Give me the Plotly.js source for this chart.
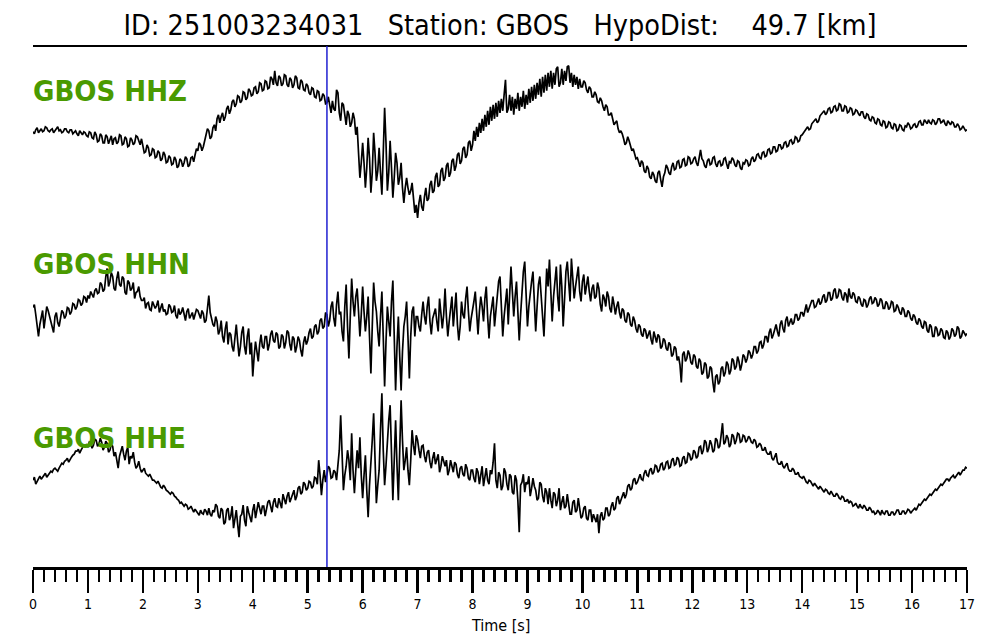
<!DOCTYPE html>
<html><head><meta charset="utf-8">
<script src="https://cdn.plot.ly/plotly-3.0.1.min.js"></script>
<style>html,body{margin:0;padding:0;background:#fff}#chart{width:1000px;height:640px}</style>
</head><body><div id="chart"></div>
<script>
// ---- data (amplitudes, sample step 0.025 s) ----
const sampleStep = 0.025;
const channels = ['GBOS HHZ', 'GBOS HHN', 'GBOS HHE'];
const hhz = [
 1, -1, 3, 5, 0, 2, 4, 1, 2, 6, 5, 2, 1, 3, 4, 0, 2, 5, 6, 2, 3, 0, 1, 4, 4, 1, 0, 3, 3, -1, 1, 2, -1, -3, 2, 0, -2, 1, 0, -3,
 -4, 1, 0, -5, -6, 1, -2, -9, -8, -1, -3, -10, -10, -2, -4, -11, -7, -3, -12, -6, -5, -11, -9, -2, -3, -12, -11, -4, -6, -14, -13, -5, -7, -12, -10, -3, -4, -9, -12, -6,
 -14, -20, -19, -12, -15, -23, -22, -16, -17, -25, -24, -18, -20, -28, -26, -19, -22, -30, -29, -23, -25, -32, -31, -24, -27, -35, -33, -26, -28, -34, -30, -24, -26, -34, -32, -25, -24, -29, -22, -16,
 -18, -10, -12, -18, -14, -6, -2, 4, 2, -6, -4, 5, 8, 2, 14, 18, 10, 16, 20, 12, 16, 24, 27, 19, 23, 31, 33, 26, 29, 37, 36, 30, 32, 41, 40, 33, 35, 44, 42, 37,
 38, 45, 46, 39, 41, 50, 49, 42, 43, 52, 51, 44, 45, 56, 54, 48, 62, 50, 47, 57, 55, 47, 49, 58, 57, 48, 46, 55, 53, 45, 48, 57, 55, 45, 44, 53, 51, 43, 42, 49,
 47, 40, 38, 45, 44, 36, 35, 42, 41, 32, 33, 39, 37, 29, 30, 36, 26, 20, 32, 24, 22, 43, 40, 20, 12, 30, 28, 15, 8, 22, 18, 6, 10, 20, 14, -2, 6, -20, -45, -30,
 -10, -30, -55, -35, -5, -25, -60, -40, 0, -20, -48, -38, -15, -40, -62, -20, 25, -10, -58, -40, -8, -35, -65, -45, -20, -30, -52, -45, -30, -55, -70, -55, -45, -55, -62, -58, -50, -65, -80, -72,
 -85, -70, -62, -74, -78, -64, -55, -68, -66, -52, -48, -60, -58, -44, -40, -54, -52, -38, -35, -48, -45, -33, -30, -44, -40, -28, -26, -38, -33, -22, -20, -31, -28, -16, -14, -25, -22, -10, -8, -18,
 -12, 2, -8, 6, -4, 10, 0, 14, 2, 18, 6, 22, 8, 26, 12, 28, 14, 30, 16, 32, 20, 34, 22, 38, 53, 20, 24, 38, 22, 36, 18, 34, 24, 40, 22, 36, 26, 42, 24, 38,
 28, 44, 30, 46, 32, 48, 34, 50, 38, 54, 36, 56, 40, 58, 42, 60, 46, 62, 44, 60, 48, 64, 66, 46, 50, 64, 48, 62, 52, 66, 67, 50, 60, 46, 58, 48, 56, 44, 54, 46,
 46, 52, 50, 43, 40, 46, 44, 36, 36, 41, 38, 31, 30, 35, 32, 26, 22, 28, 26, 18, 18, 20, 14, 8, 10, 12, 4, 0, 2, -1, -6, -12, -10, -4, -8, -14, -18, -16, -22, -26,
 -25, -30, -34, -28, -30, -38, -40, -33, -36, -44, -46, -39, -42, -48, -50, -40, -38, -47, -54, -44, -40, -32, -35, -40, -42, -34, -30, -37, -36, -29, -28, -35, -34, -27, -26, -33, -32, -24, -25, -31,
 -30, -26, -24, -30, -33, -25, -17, -26, -28, -33, -35, -28, -26, -32, -31, -25, -24, -31, -34, -29, -28, -33, -32, -26, -25, -31, -36, -29, -30, -25, -27, -32, -34, -28, -29, -35, -37, -30, -31, -27,
 -28, -33, -32, -26, -24, -29, -27, -22, -21, -25, -26, -20, -19, -24, -23, -17, -16, -21, -20, -14, -14, -19, -18, -12, -12, -16, -15, -10, -9, -14, -13, -8, -7, -11, -10, -4, -5, -9, -8, -3,
 -2, 0, 2, 5, 6, 3, 4, 9, 11, 13, 14, 10, 12, 17, 19, 21, 22, 18, 20, 24, 25, 20, 21, 26, 27, 22, 23, 29, 28, 22, 22, 27, 26, 20, 21, 25, 24, 18, 19, 23,
 22, 19, 17, 21, 21, 16, 14, 19, 18, 13, 12, 16, 15, 10, 9, 14, 13, 8, 7, 12, 11, 5, 6, 11, 10, 5, 4, 9, 8, 2, 3, 8, 7, 3, 2, 7, 6, 10, 8, 4,
 5, 8, 9, 5, 7, 11, 12, 8, 8, 13, 11, 9, 13, 10, 9, 13, 12, 8, 10, 14, 14, 10, 11, 13, 9, 7, 12, 10, 8, 11, 10, 6, 6, 9, 7, 3, 4, 7, 5, 2,
 3
];
const hhn = [
 -1, 2, -8, -20, -30, -18, -12, -4, -22, -8, 0, -4, -10, -14, -20, -26, -10, -6, -16, -20, -12, -4, -6, -12, -9, -1, -2, -8, -5, 3, 2, -3, 0, 7, 6, 1, 3, 10, 9, 4,
 11, 8, 15, 12, 9, 16, 18, 13, 14, 24, 22, 15, 17, 30, 38, 20, 25, 34, 30, 18, 16, 28, 35, 22, 20, 30, 28, 14, 12, 26, 24, 16, 18, 24, 8, 14, 15, 20, 10, 6,
 6, 9, -2, 3, 4, -3, -4, 5, 2, -2, 1, 6, -6, -2, 3, -5, -3, -8, -7, 2, 0, -6, -5, 1, -9, -12, -2, -8, -6, -1, -10, -14, -5, -2, -12, -8, -6, -13, -9, -3,
 -4, -9, -12, -4, -7, -16, -14, -2, 11, -6, -13, -18, -20, -10, -15, -28, -24, -14, -30, -36, -22, -15, -38, -26, -28, -40, -45, -30, -18, -35, -50, -40, -26, -20, -40, -48, -30, -22, -48, -36,
 -70, -50, -35, -45, -55, -38, -28, -40, -42, -30, -30, -44, -38, -28, -24, -34, -36, -26, -28, -42, -40, -28, -30, -42, -36, -24, -26, -38, -44, -30, -32, -46, -40, -30, -34, -44, -50, -36, -30, -38,
 -34, -26, -22, -32, -30, -20, -18, -28, -25, -14, -12, -22, -20, -6, -8, -20, -14, 0, 5, -12, -20, 2, 15, -8, -5, -25, -35, 0, 22, -20, -52, -10, 28, 5, -10, 10, 18, -5, -30, -8,
 20, -5, -25, -10, 10, -30, -67, -20, 24, 5, -5, -25, -40, -10, 15, -30, -80, -35, 0, -15, -30, 5, 26, -30, -84, -40, -10, -50, -84, -45, -20, -10, 5, -30, -72, -30, -5, 0, -30, -10,
 -10, -20, -25, -8, 5, -10, -18, 0, 10, -15, -28, -12, -6, -2, -15, -25, 8, -5, -22, -8, 18, -10, -30, -15, 0, 10, -20, -5, 14, -18, -34, -20, 5, -8, -12, 8, 20, -5, -25, -12,
 -5, 5, 15, -10, -28, -5, 10, 0, -15, 8, 20, -10, -32, -10, 2, 10, -20, -5, 12, 25, 30, 0, -30, -10, 8, 18, -18, 5, 40, 15, -10, 10, 25, -5, -34, -8, 20, 35, 45, 10,
 -20, 0, 15, 25, 35, 5, -25, 0, 22, 30, 5, -10, -30, 10, 38, 20, 47, 15, -15, 10, 30, 40, 10, -5, 42, 20, -20, 10, 35, 45, 20, 5, 48, 25, 8, 20, 30, 40, 15, 5,
 25, 32, 12, 20, 30, 15, 5, 18, 22, 8, 10, 24, 18, 2, -5, 12, 8, 0, 15, 10, -2, -6, 10, 2, -8, 0, 5, -6, -12, -2, -4, -14, -16, -6, -8, -18, -20, -10, -14, -22,
 -26, -18, -20, -28, -30, -22, -24, -32, -28, -24, -33, -38, -25, -30, -36, -28, -30, -42, -40, -32, -34, -42, -44, -36, -38, -50, -48, -40, -42, -54, -50, -58, -76, -48, -45, -55, -52, -44, -48, -56,
 -58, -48, -50, -60, -62, -52, -55, -68, -66, -56, -58, -72, -70, -60, -62, -76, -86, -70, -68, -78, -75, -62, -60, -70, -66, -55, -58, -68, -64, -52, -54, -63, -60, -50, -55, -64, -58, -48, -50, -56,
 -52, -44, -46, -52, -48, -40, -40, -47, -44, -36, -35, -42, -38, -30, -30, -36, -26, -22, -32, -28, -22, -18, -25, -30, -18, -14, -22, -26, -14, -10, -20, -16, -12, -18, -16, -8, -8, -14, -12, -6,
 -6, -10, -2, 2, -6, -2, 2, 6, 6, -1, 0, 5, 8, 2, 4, 10, 12, 4, 6, 14, 14, 6, 8, 16, 18, 8, 10, 17, 16, 9, 6, 14, 12, 4, 18, 10, 8, 14, 12, 5,
 4, 10, 8, 2, 0, 7, 6, -1, 2, 8, 10, 3, 4, 9, 7, 0, 2, 8, 6, -2, -2, 5, 3, -3, -1, 5, 4, -5, -4, 2, -1, -6, -8, -1, -3, -10, -10, -4, -6, -12,
 -14, -8, -10, -16, -18, -12, -14, -20, -22, -15, -16, -24, -26, -18, -20, -30, -30, -20, -22, -29, -28, -22, -24, -31, -32, -24, -26, -33, -30, -22, -24, -30, -28, -20, -22, -32, -30, -24, -26, -29,
 -27
];
const hhe = [
 0, 3, -4, -1, 2, 4, 1, 3, 5, 7, 3, 5, 6, 9, 8, 11, 12, 10, 9, 12, 14, 17, 16, 19, 20, 22, 18, 21, 23, 25, 26, 29, 29, 31, 27, 30, 32, 35, 34, 36,
 33, 38, 37, 32, 35, 41, 40, 34, 36, 42, 38, 30, 33, 39, 37, 28, 30, 36, 34, 24, 28, 20, 12, 24, 30, 34, 26, 20, 29, 33, 16, 24, 22, 28, 18, 12, 14, 19, 12, 8,
 10, 12, 7, 5, 4, 6, 2, 0, 0, -2, -3, -1, -5, -7, -8, -5, -7, -10, -11, -13, -14, -12, -13, -16, -17, -19, -20, -23, -22, -24, -26, -24, -25, -29, -28, -26, -30, -32, -29, -31,
 -32, -35, -30, -33, -34, -29, -31, -35, -28, -34, -36, -30, -32, -24, -26, -36, -38, -28, -30, -44, -42, -30, -28, -40, -36, -26, -48, -38, -30, -44, -57, -36, -34, -25, -40, -46, -26, -32, -36, -42,
 -30, -24, -38, -30, -22, -28, -34, -26, -26, -36, -30, -22, -20, -28, -32, -22, -18, -26, -27, -18, -22, -28, -14, -20, -24, -16, -12, -22, -18, -12, -10, -20, -16, -8, -6, -14, -12, -2, -4, -10,
 -8, -1, -2, -8, -6, 3, 2, -4, 20, 5, -15, 0, 10, -2, 5, 14, 12, 2, 3, 10, 8, 0, 15, 30, 65, 20, -10, 5, 14, 30, 20, 0, 47, 10, -13, 10, 30, 12, 43, 5,
 -18, 5, 25, -10, -37, -5, 15, 40, 67, 20, -23, -5, 10, 50, 87, 30, -5, 15, 40, 60, 75, 20, -20, 20, 60, 15, -20, 30, 80, 40, 10, 20, 33, 10, -5, 20, 50, 35, 25, 45,
 40, 30, 22, 34, 35, 24, 18, 28, 30, 18, 12, 22, 28, 16, 20, 26, 8, 14, 24, 18, 14, 20, 5, 10, 20, 14, 8, 18, 16, 6, 2, 12, 14, 6, 4, 16, 12, 2, 0, 10,
 10, 2, -2, 12, 8, -4, 4, 14, -6, 2, 12, 0, -4, 10, 6, 18, 37, 0, -8, 8, 5, -10, -6, 12, 8, -4, -10, 6, 4, -12, -14, 5, 0, -20, -52, -5, -2, 6, -12, -2,
 -4, 4, -16, -8, 2, -6, -10, -20, -18, -2, -4, -16, -22, -8, -12, -24, -8, -20, -28, -12, -14, -26, -20, -8, -30, -22, -16, -28, -26, -14, -24, -34, -34, -22, -20, -32, -30, -18, -28, -38,
 -36, -28, -26, -38, -40, -30, -30, -42, -34, -38, -42, -34, -53, -36, -32, -40, -38, -28, -28, -36, -34, -26, -22, -30, -28, -18, -16, -24, -20, -14, -12, -18, -14, -6, -4, -10, -8, 0, 2, -4,
 -2, 2, 6, 1, 0, 7, 10, 5, 4, 10, 12, 6, 8, 15, 14, 8, 10, 16, 17, 10, 12, 18, 19, 12, 13, 20, 22, 15, 16, 23, 21, 14, 15, 22, 24, 17, 18, 27, 26, 20,
 22, 30, 28, 22, 24, 33, 34, 26, 30, 40, 38, 28, 32, 40, 36, 28, 30, 42, 40, 32, 34, 45, 57, 36, 38, 45, 42, 33, 36, 46, 44, 36, 40, 47, 46, 38, 39, 45, 44, 38,
 40, 44, 42, 38, 37, 41, 39, 33, 34, 37, 35, 30, 30, 33, 28, 26, 26, 29, 22, 20, 24, 27, 18, 16, 16, 19, 14, 12, 15, 17, 11, 9, 9, 12, 10, 6, 6, 8, 4, 3,
 2, 4, 0, -2, -3, 0, -1, -4, -6, -3, -5, -8, -9, -6, -8, -11, -12, -9, -10, -13, -14, -11, -13, -16, -16, -13, -15, -18, -19, -16, -17, -21, -21, -19, -23, -21, -22, -26, -25, -23,
 -26, -28, -24, -27, -28, -25, -27, -30, -30, -27, -29, -32, -31, -34, -33, -30, -32, -35, -30, -33, -34, -31, -31, -35, -35, -32, -32, -35, -33, -30, -30, -34, -34, -31, -31, -34, -32, -29, -30, -33,
 -31, -29, -28, -30, -27, -24, -25, -23, -22, -19, -20, -18, -17, -14, -15, -13, -12, -9, -10, -8, -7, -4, -5, -3, -2, 1, 1, -1, 2, 4, 5, 2, 4, 7, 8, 5, 7, 10, 10, 13,
 12
];
const pickTime = 5.35;
const tickValues = [0,1,2,3,4,5,6,7,8,9,10,11,12,13,14,15,16,17];
const tickLabels = ['0','1','2','3','4','5','6','7','8','9','10','11','12','13','14','15','16','17'];
const titleText = 'ID: 251003234031   Station: GBOS   HypoDist:    49.7 [km]';
const xLabel = 'Time [s]';

// ---- layout constants ----
const W = 1000, H = 640;
const M = {l: 33, r: 33, t: 46, b: 73};
const plotH = H - M.t - M.b;              // 521 px
const rowCentres = [132.8, 306.5, 480.2];   // pixel centre line of each trace
const serieses = [hhz, hhn, hhe];
const green = '#4a9a00';
const fontFam = '"DejaVu Sans Condensed", "DejaVu Sans", sans-serif';

const time = hhz.map((_, i) => +(i * sampleStep).toFixed(3));

const traces = serieses.map((vals, k) => ({
  x: time, y: vals, type: 'scatter', mode: 'lines',
  line: {color: '#000000', width: 1.7},
  xaxis: 'x', yaxis: k === 0 ? 'y' : 'y' + (k + 1),
  hoverinfo: 'skip', showlegend: false
}));

function yAx(k) {
  const top = rowCentres[k] - M.t;
  const bottom = top - plotH;
  const ax = {domain: [0, 1], range: [bottom, top], visible: false, fixedrange: true,
              showgrid: false, zeroline: false};
  if (k > 0) ax.overlaying = 'y';
  return ax;
}

const labelCentres = [91, 264, 437.5];
const annotations = channels.map((name, k) => ({
  text: '<b>' + name + '</b>', xref: 'paper', yref: 'paper',
  x: 0, xanchor: 'left', xshift: -2, y: (H - M.b - labelCentres[k]) / plotH, yanchor: 'middle',
  showarrow: false, font: {family: fontFam, size: 29, color: green}
}));
annotations.push({
  text: xLabel, xref: 'paper', yref: 'paper', x: 0.5, xanchor: 'center',
  y: -(625 - (H - M.b)) / plotH, yanchor: 'middle', showarrow: false,
  font: {family: fontFam, size: 16, color: '#000'}
});

const layout = {
  width: W, height: H, margin: M, paper_bgcolor: '#fff', plot_bgcolor: '#fff',
  title: {text: titleText.replace(/ /g, '\u00A0'), x: 0.5, xanchor: 'center', xref: 'paper',
          y: 1 - 25 / H, yanchor: 'middle', font: {family: fontFam, size: 28.5, color: '#000'}},
  xaxis: {range: [0, 17], domain: [0, 1], anchor: 'y', showline: true, linecolor: '#000', linewidth: 2.5,
          ticks: 'outside', ticklen: 23, tickwidth: 2.5, tickcolor: '#000',
          tickmode: 'array', tickvals: tickValues, ticktext: tickLabels,
          minor: {ticks: 'outside', dtick: 0.2, tick0: 0, ticklen: 12, tickwidth: 2.5, tickcolor: '#000', showgrid: false},
          showgrid: false, zeroline: false, fixedrange: true,
          tickfont: {family: fontFam, size: 14, color: '#000'}},
  yaxis: yAx(0), yaxis2: yAx(1), yaxis3: yAx(2),
  shapes: [
    {type: 'line', xref: 'paper', yref: 'paper', x0: 0, x1: 1, y0: 1, y1: 1,
     line: {color: '#000', width: 2}},
    {type: 'line', xref: 'x', yref: 'paper', x0: pickTime, x1: pickTime, y0: 0, y1: 1,
     line: {color: '#1f1fd0', width: 1.5}}
  ],
  annotations: annotations
};

Plotly.newPlot('chart', traces, layout, {staticPlot: true, displayModeBar: false});
</script></body></html>
